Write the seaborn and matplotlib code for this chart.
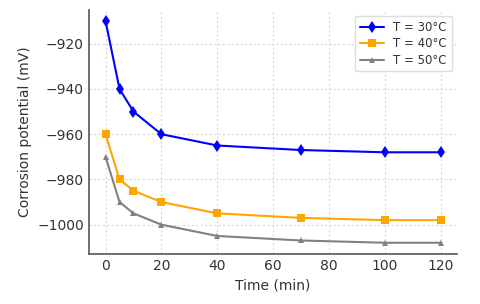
import pandas as pd
import seaborn as sns
import matplotlib.pyplot as plt

tempo = [0, 5, 10, 20, 40, 70, 100, 120]
t30 = [-910, -940, -950, -960, -965, -967, -968, -968]
t40 = [-960, -980, -985, -990, -995, -997, -998, -998]
t50 = [-970, -990, -995, -1000, -1005, -1007, -1008, -1008]
rotulos = ['T = 30°C', 'T = 40°C', 'T = 50°C']

df = pd.DataFrame({
    'tempo': tempo * 3,
    'potencial': t30 + t40 + t50,
    'serie': [rotulos[0]] * 8 + [rotulos[1]] * 8 + [rotulos[2]] * 8,
})

sns.set_style('white')
plt.rcParams['text.color'] = '#333333'
plt.rcParams['axes.labelcolor'] = '#333333'
plt.rcParams['xtick.color'] = '#333333'
plt.rcParams['ytick.color'] = '#333333'

fig, ax = plt.subplots(figsize=(4.8, 3.04), dpi=100)
cores = {rotulos[0]: 'blue', rotulos[1]: 'orange', rotulos[2]: 'gray'}
marcadores = {rotulos[0]: 'd', rotulos[1]: 's', rotulos[2]: '^'}
tamanhos = {rotulos[0]: 6, rotulos[1]: 6, rotulos[2]: 5}
for r in rotulos:
    sub = df[df['serie'] == r]
    sns.lineplot(data=sub, x='tempo', y='potencial', ax=ax, color=cores[r],
                 marker=marcadores[r], markersize=tamanhos[r], markeredgewidth=0,
                 linewidth=1.5, label=r)

ax.set_xlabel('Time (min)', fontsize=10)
ax.set_ylabel('Corrosion potential (mV)', fontsize=10)
ax.set_xticks([0, 20, 40, 60, 80, 100, 120])
ax.set_yticks([-920, -940, -960, -980, -1000])
ax.tick_params(length=0, labelsize=10)
ax.grid(True, linestyle=(0, (2, 2)), color='#d9d9d9', linewidth=0.8)
for s in ['top', 'right']:
    ax.spines[s].set_visible(False)
for s in ['left', 'bottom']:
    ax.spines[s].set_color('#555555')
    ax.spines[s].set_linewidth(1.2)
ax.legend(loc='upper right', fontsize=8.5, framealpha=1, edgecolor='#dddddd',
          labelspacing=0.3)
plt.subplots_adjust(left=0.185, right=0.953, top=0.967, bottom=0.165)
plt.savefig('out.png')
